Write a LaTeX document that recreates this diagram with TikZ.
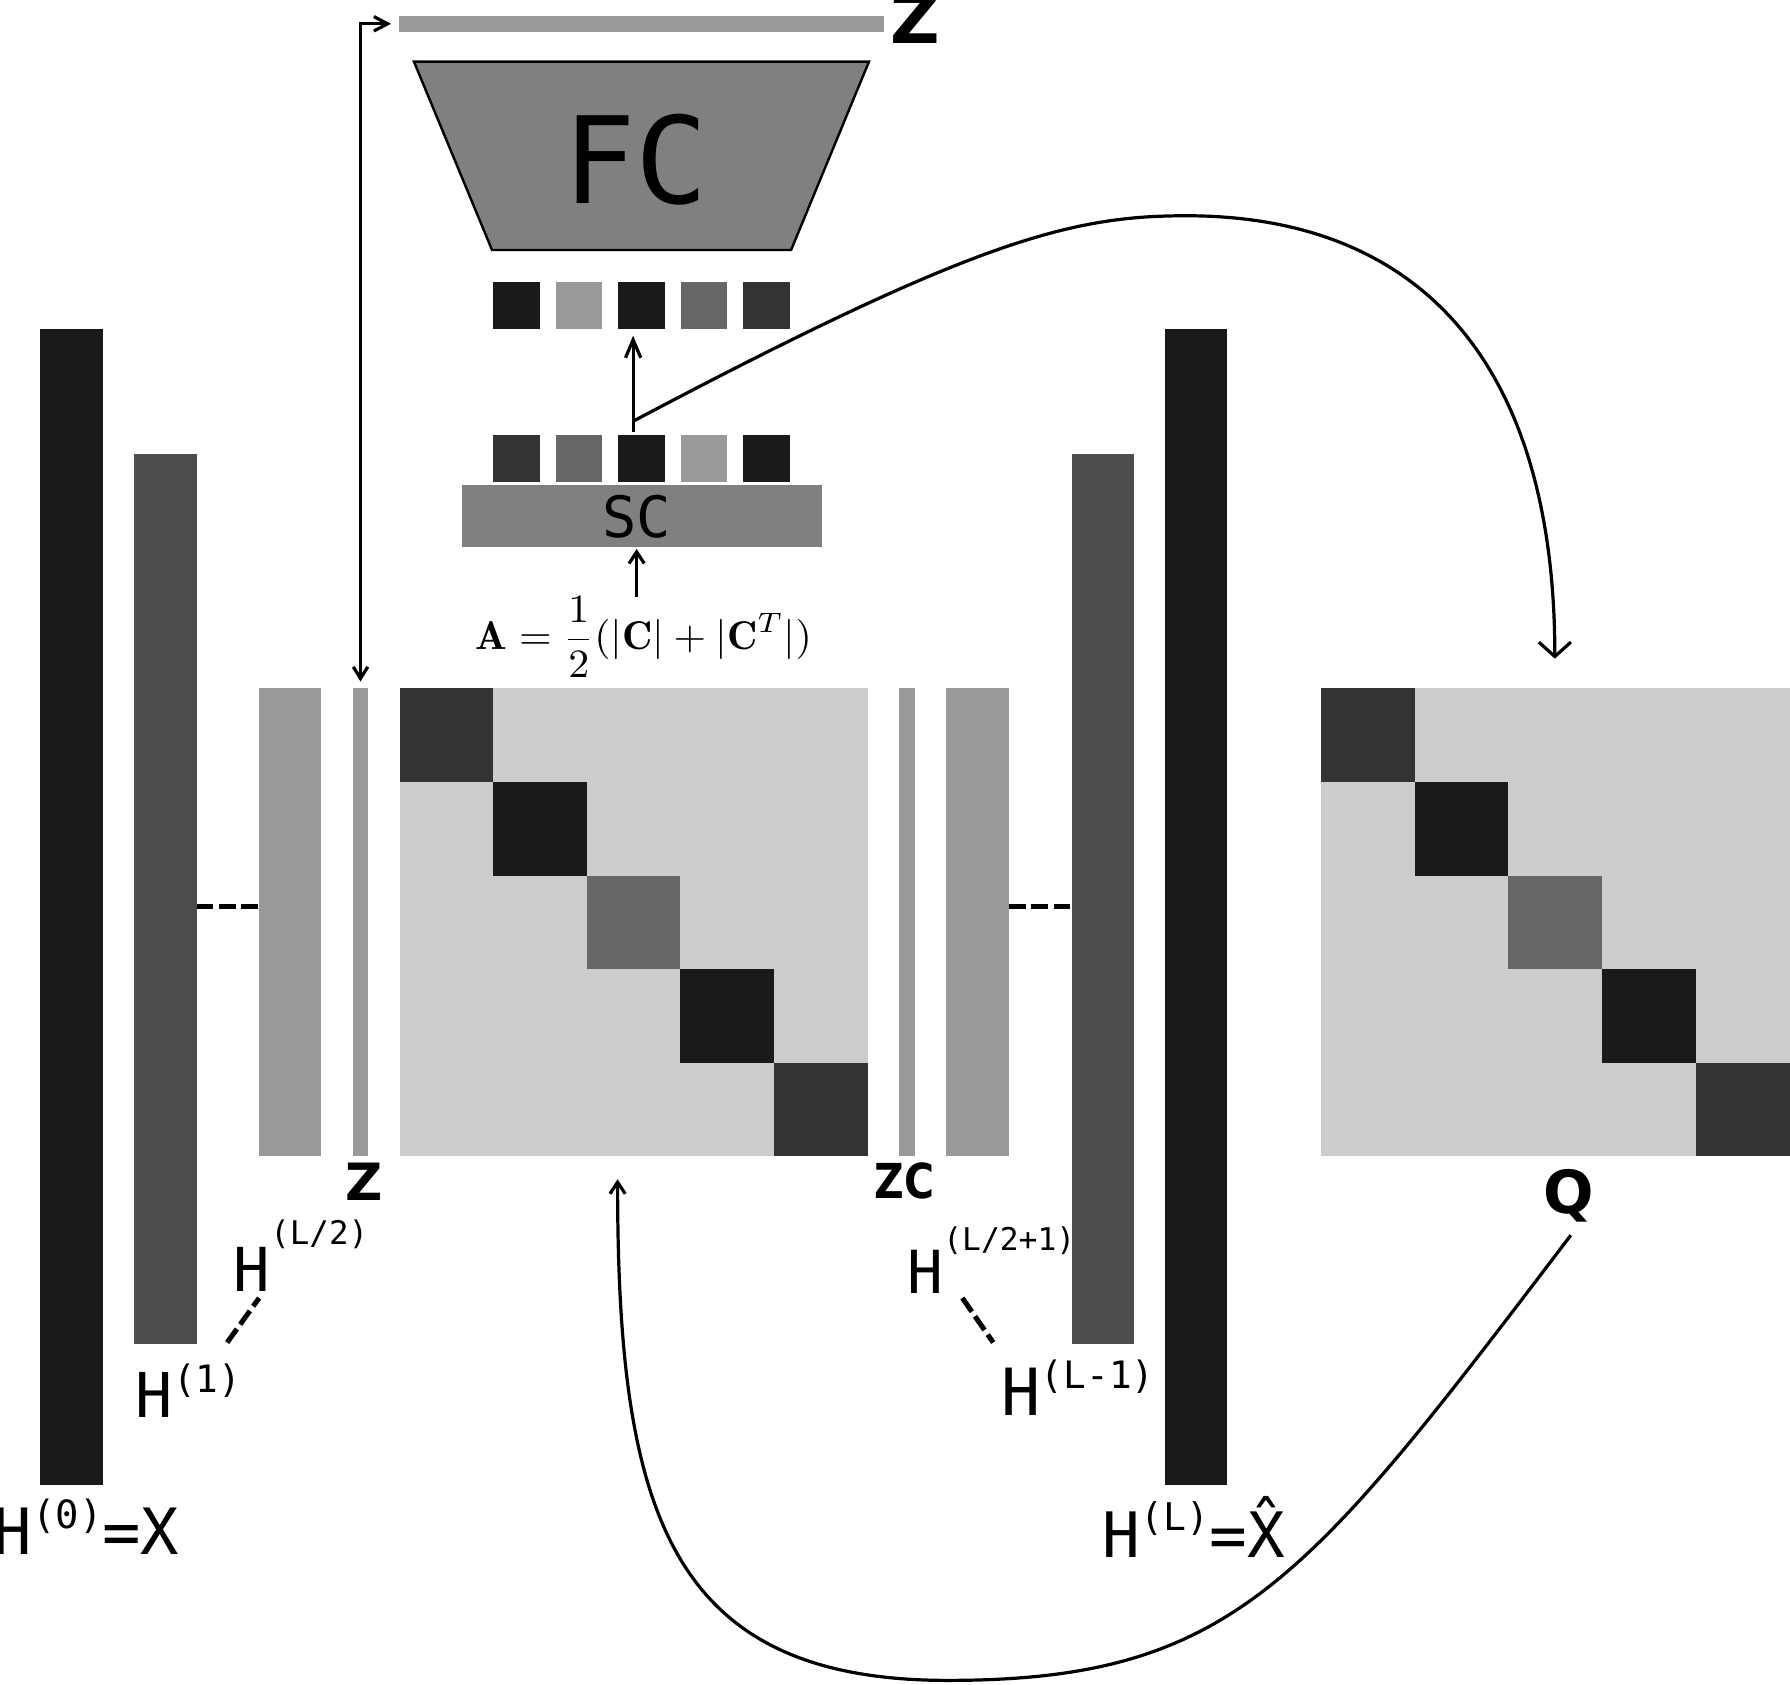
\documentclass[tikz,border=0pt]{standalone}
\usepackage{fontspec}
\newfontfamily\monof{DejaVu Sans Mono}
\newfontfamily\bsansf{DejaVu Sans Bold}
\usetikzlibrary{arrows.meta,fit,calc}
\definecolor{ka}{HTML}{1A1A1A}
\definecolor{k33}{HTML}{333333}
\definecolor{k4d}{HTML}{4D4D4D}
\definecolor{k66}{HTML}{666666}
\definecolor{k80}{HTML}{808080}
\definecolor{k99}{HTML}{999999}
\definecolor{kcc}{HTML}{CCCCCC}
\tikzset{
  blk/.style={inner sep=0pt, outer sep=0pt, draw=none},
  lab/.style={inner sep=0pt, outer sep=0pt, anchor=base west, font=\monof},
  blab/.style={inner sep=0pt, outer sep=0pt, anchor=base west, font=\bsansf},
  ln/.style={line width=0.8pt},
  sarr/.style={ln, -{Straight Barb[length=2.9pt,width=3.8pt]}},
  barr/.style={ln, -{Straight Barb[length=3.6pt,width=8pt]}},
  dsh/.style={line width=1.25pt, dash pattern=on 4.15pt off 1.4pt},
}
\begin{document}
\begin{tikzpicture}[x=0.01cm,y=-0.01cm]
\useasboundingbox (0,0) rectangle (1568,1476);

% left encoder bars
\node[blk, fill=ka,  fit={(35,288)(90,1300.8)}] (h0) {};
\node[blk, fill=k4d, fit={(117.4,398)(172.3,1177.6)}] (h1) {};
\node[blk, fill=k99, fit={(227,603)(281,1013)}] (hm) {};
\node[blk, fill=k99, fit={(309,603)(322.6,1013)}] (z) {};

% C matrix
\node[blk, fill=kcc, fit={(350,603)(760,1013)}] (cm) {};
\foreach \i/\c in {0/k33,1/ka,2/k66,3/ka,4/k33}
  \fill[\c] (350+\i*82,603+\i*82) rectangle (432+\i*82,685+\i*82);

% decoder bars
\node[blk, fill=k99, fit={(787.8,603)(801.5,1013)}] (zc) {};
\node[blk, fill=k99, fit={(828.7,603)(883.9,1013)}] (hm1) {};
\node[blk, fill=k4d, fit={(938.7,398)(993.3,1177.6)}] (hl1) {};
\node[blk, fill=ka,  fit={(1020.5,288)(1075,1300.8)}] (hl) {};

% Q matrix
\node[blk, fill=kcc, fit={(1157,603)(1568,1013)}] (qm) {};
\foreach \i/\c in {0/k33,1/ka,2/k66,3/ka,4/k33}
  \fill[\c] (1157+\i*82.2,603+\i*82) rectangle (1239.2+\i*82.2,685+\i*82);

% top: Z bar, FC, squares, SC
\node[blk, fill=k99, fit={(349.5,14)(774,27.7)}] (zt) {};
\draw[fill=k80, line width=0.6pt] (362.6,54) -- (761.2,54) -- (693,219) -- (431,219) -- cycle;
\node[inner sep=0pt, anchor=base, font=\monof\fontsize{30pt}{30pt}\selectfont] (fc) at (557,178) {FC};
\foreach \x/\c [count=\i] in {432/ka,486.7/k99,541.6/ka,596.2/k66,651/k33}
  \node[blk, fill=\c, fit={(\x,247)(\x+41,288)}] (ts\i) {};
\foreach \x/\c [count=\i] in {432/k33,486.7/k66,541.6/ka,596.2/k99,651/ka}
  \node[blk, fill=\c, fit={(\x,381)(\x+41,422)}] (bs\i) {};
\node[blk, fill=k80, fit={(404.4,424.8)(719.8,478.9)}] (sc) {};
\node[inner sep=0pt, anchor=base, font=\monof\fontsize{14.2pt}{14pt}\selectfont] (sct) at (558,471) {SC};

% formula
\node[anchor=base west, inner sep=0pt] (frm) at (416,569)
  {\scalebox{1.045}[1]{$\displaystyle\mathbf{A}=\frac{1}{2}(|\mathbf{C}|+|\mathbf{C}^T|)$}};

% labels
\node[blab, font=\bsansf\fontsize{17pt}{17pt}\selectfont] (zlt) at (780,38) {Z};
\node[blab, font=\bsansf\fontsize{12.8pt}{13pt}\selectfont] (zlb) at (303,1052) {Z};
\node[blab, font=\bsansf\fontsize{12pt}{12pt}\selectfont] (zcl) at (766,1050) {\scalebox{0.85}[1]{ZC}};
\node[blab, font=\bsansf\fontsize{14.8pt}{15pt}\selectfont] (ql) at (1352,1063) {Q};

\node[lab] (lh0) at (-5.5,1362) {\fontsize{15.9pt}{16pt}\selectfont H\raisebox{6.5pt}{\fontsize{9.7pt}{10pt}\selectfont(0)}=X};
\node[lab] (lh1) at (119,1242) {\fontsize{15.4pt}{16pt}\selectfont H\raisebox{6.3pt}{\fontsize{9.4pt}{10pt}\selectfont(1)}};
\node[lab] (lhm) at (204.8,1131.7) {\fontsize{15.1pt}{16pt}\selectfont H\raisebox{11.7pt}{\fontsize{8.1pt}{9pt}\selectfont(L/2)}};
\node[lab] (lhm1) at (795,1133) {\fontsize{14.8pt}{15pt}\selectfont H\raisebox{10.8pt}{\fontsize{7.8pt}{9pt}\selectfont(L/2+1)}};
\node[lab] (lhl1) at (877.5,1240) {\fontsize{16.2pt}{17pt}\selectfont H\raisebox{6.8pt}{\fontsize{9.4pt}{10pt}\selectfont(L-1)}};
\node[lab] (lhl) at (966,1364.7) {\fontsize{15.6pt}{16pt}\selectfont H\raisebox{6.8pt}{\fontsize{9.5pt}{10pt}\selectfont(L)}=X̂};

% dashed links
\coordinate (dy) at (0,794);
\draw[dsh] (h1.east |- dy) -- (hm.west |- dy);
\draw[dsh] (hm1.east |- dy) -- (hl1.west |- dy);
\coordinate (d1a) at (199,1176);
\coordinate (d1b) at (227,1137);
\draw[dsh] (d1a) -- (d1b);
\coordinate (d2a) at (843,1137);
\coordinate (d2b) at (870,1176);
\draw[dsh] (d2a) -- (d2b);

% arrows
\draw[ln, {Straight Barb[length=2.9pt,width=3.6pt]}-{Straight Barb[length=3.4pt,width=3.6pt]}]
  ([yshift=1.7pt]z.north) |- ([xshift=-2pt]zt.west);
\coordinate (fb) at (557.7,522.7);
\draw[sarr] (fb) -- ($(sc.south -| fb)+(0,2)$);
\coordinate (b0) at (554.6,378);
\coordinate (br) at (554.6,369);
\draw[ln, -{Straight Barb[length=4.5pt,width=3.8pt]}] (b0) -- ($(ts3.south -| b0)+(0,6)$);
\coordinate (qin) at (1362,577);
\draw[barr] (br) .. controls (855,210) and (939,189) .. (1039,189)
  .. controls (1249,189) and (1362,324) .. (qin);
\coordinate (qout) at (1376,1082);
\coordinate (cin) at (541,1033);
\draw[sarr] (qout) .. controls (1145,1386) and (1080,1472) .. (830,1472)
  .. controls (585,1472) and (541,1323) .. (cin);
\end{tikzpicture}
\end{document}
